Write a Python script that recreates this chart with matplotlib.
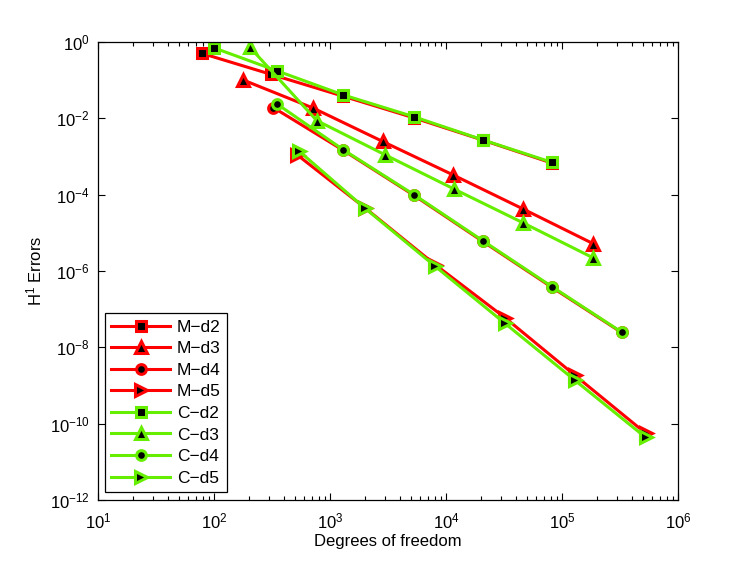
import numpy as np
import matplotlib
matplotlib.use("Agg")
import matplotlib.pyplot as plt
from matplotlib.ticker import LogLocator, NullFormatter

plt.rcParams['font.family'] = ['Liberation Sans', 'DejaVu Sans']
plt.rcParams['mathtext.fontset'] = 'custom'
plt.rcParams['mathtext.rm'] = 'Liberation Sans'
plt.rcParams['mathtext.it'] = 'Liberation Sans'

# ---------------------------------
# DATA
# ---------------------------------

m_d2_dof = [78, 308, 1300, 5300, 20700, 82400]
m_d2_err = [0.507, 0.143, 0.038, 0.0103, 0.0027, 6.7e-4]

m_d3_dof = [177, 718, 2845, 11430, 46400, 186000]
m_d3_err = [0.102, 0.0185, 2.48e-3, 3.33e-4, 4.2e-5, 5.2e-6]

m_d4_dof = [324, 1303, 5300, 20700, 82400, 327000]
m_d4_err = [0.0192, 1.45e-3, 9.6e-5, 6.0e-6, 3.7e-7, 2.45e-8]

m_d5_dof = [520, 2005, 8040, 32300, 129500, 527000]
m_d5_err = [1.11e-3, 4.5e-5, 1.48e-6, 5.97e-8, 1.85e-9, 5.63e-11]

c_d2_dof = [99, 352, 1303, 5300, 20700, 82400]
c_d2_err = [0.71, 0.174, 0.041, 0.011, 0.00274, 7.0e-4]

c_d3_dof = [204, 768, 2980, 11720, 46400, 186000]
c_d3_err = [0.726, 0.00877, 1.11e-3, 1.41e-4, 1.82e-5, 2.21e-6]

c_d4_dof = [352, 1303, 5300, 20700, 82400, 327000]
c_d4_err = [0.0234, 1.5e-3, 1.0e-4, 6.27e-6, 3.86e-7, 2.51e-8]

c_d5_dof = [537, 2005, 8040, 32300, 129500, 527000]
c_d5_err = [1.41e-3, 4.4e-5, 1.34e-6, 4.24e-8, 1.37e-9, 4.36e-11]

# ---------------------------------
# PLOT
# ---------------------------------

fig = plt.figure(figsize=(7.49, 5.64), dpi=100)
ax = fig.add_axes([0.131, 0.1135, 0.774, 0.812])

red = '#ff0000'
green = '#66ee00'
style = dict(linewidth=2.2, markerfacecolor='k', markeredgewidth=2.2)

series = [
    (m_d2_dof, m_d2_err, red, 's', 6.5, 'M\u2212d2'),
    (m_d3_dof, m_d3_err, red, '^', 8.5, 'M\u2212d3'),
    (m_d4_dof, m_d4_err, red, 'o', 7, 'M\u2212d4'),
    (m_d5_dof, m_d5_err, red, '>', 8.5, 'M\u2212d5'),
    (c_d2_dof, c_d2_err, green, 's', 6.5, 'C\u2212d2'),
    (c_d3_dof, c_d3_err, green, '^', 8.5, 'C\u2212d3'),
    (c_d4_dof, c_d4_err, green, 'o', 7, 'C\u2212d4'),
    (c_d5_dof, c_d5_err, green, '>', 8.5, 'C\u2212d5'),
]

for dof, err, col, mk, ms, lab in series:
    ax.loglog(dof, err, color=col, marker=mk, markersize=ms,
              markeredgecolor=col, label=lab, **style)

ax.set_xlim(1e1, 1e6)
ax.set_ylim(1e-12, 1e0)
ax.set_yticks([10.0**k for k in range(-12, 1, 2)])
ax.set_yticklabels([r'$10^{%d}$' % k if k == 0 else r'$10^{-%d}$' % (-k)
                    for k in range(-12, 1, 2)])
ax.yaxis.set_minor_locator(plt.NullLocator())
ax.set_xticks([10.0**k for k in range(1, 7)])
ax.set_xticklabels([r'$10^{%d}$' % k for k in range(1, 7)])
ax.xaxis.set_minor_locator(LogLocator(base=10, subs=np.arange(2, 10), numticks=20))
ax.xaxis.set_minor_formatter(NullFormatter())

ax.tick_params(which='both', direction='in', top=True, right=True,
               labelsize=12, width=0.8)
ax.tick_params(which='major', length=5)
ax.tick_params(which='minor', length=3)
ax.tick_params(axis='x', which='major', pad=8)
ax.tick_params(axis='y', which='major', pad=6)
for sp in ax.spines.values():
    sp.set_linewidth(0.9)

ax.set_xlabel('Degrees of freedom', fontsize=12, labelpad=2)
ax.set_ylabel(r'H$^1$ Errors', fontsize=12, labelpad=4)

leg = ax.legend(loc='lower left', bbox_to_anchor=(0.012, 0.018), fontsize=12.5,
                fancybox=False, edgecolor='k', framealpha=1, handlelength=3.4,
                borderpad=0.35, labelspacing=0.37, handletextpad=0.4,
                borderaxespad=0)
leg.get_frame().set_linewidth(0.9)

plt.savefig('out.png', dpi=100)
